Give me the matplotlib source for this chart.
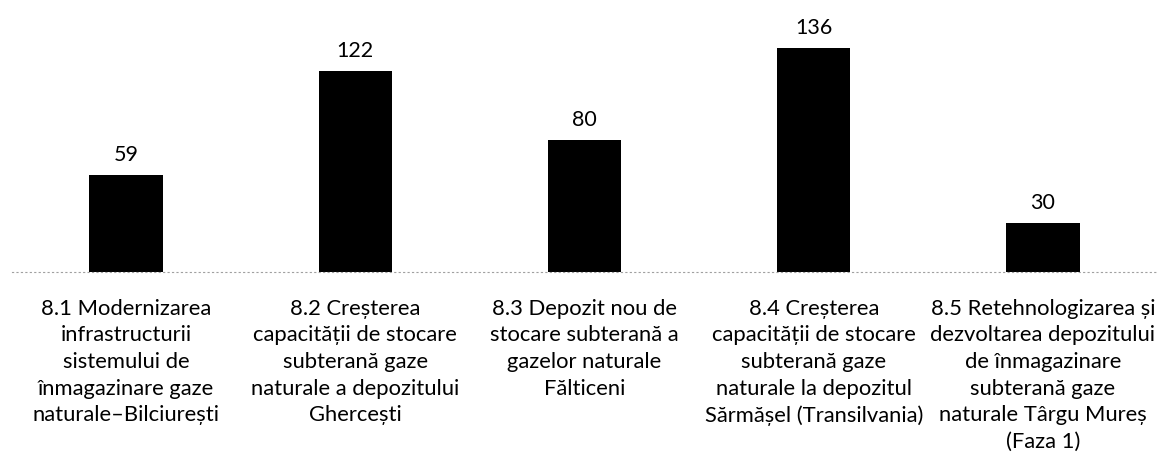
import matplotlib.pyplot as plt

plt.rcParams['font.family'] = ['Lato', 'DejaVu Sans']

categories = [
    "8.1 Modernizarea\ninfrastructurii\nsistemului de\nînmagazinare gaze\nnaturale–Bilciurești",
    "8.2 Creșterea\ncapacității de stocare\nsubterană gaze\nnaturale a depozitului\nGhercești",
    "8.3 Depozit nou de\nstocare subterană a\ngazelor naturale\nFălticeni",
    "8.4 Creșterea\ncapacității de stocare\nsubterană gaze\nnaturale la depozitul\nSărmășel (Transilvania)",
    "8.5 Retehnologizarea și\ndezvoltarea depozitului\nde înmagazinare\nsubterană gaze\nnaturale Târgu Mureș\n(Faza 1)",
]
values = [59, 122, 80, 136, 30]

fig = plt.figure(figsize=(11.64, 4.62), dpi=100)
ax = fig.add_axes([0.0099, 0.411, 0.9845, 0.535])

x = range(len(values))
ax.bar(x, values, width=0.32, color='black')
for xi, v in zip(x, values):
    ax.text(xi, v + 6, str(v), ha='center', va='bottom', fontsize=15.5)

ax.set_xlim(-0.5, len(values) - 0.5)
ax.set_ylim(0, 150)
ax.set_xticks(list(x))
ax.set_xticklabels(categories, fontsize=15.8, linespacing=1.42, va='top')
ax.tick_params(axis='x', length=0, pad=19)
ax.set_yticks([])
for s in ['top', 'right', 'left']:
    ax.spines[s].set_visible(False)
ax.spines['bottom'].set_color('#a0a0a0')
ax.spines['bottom'].set_linestyle((0, (1, 3)))
ax.spines['bottom'].set_linewidth(0.8)

fig.savefig('out.png', dpi=100)
